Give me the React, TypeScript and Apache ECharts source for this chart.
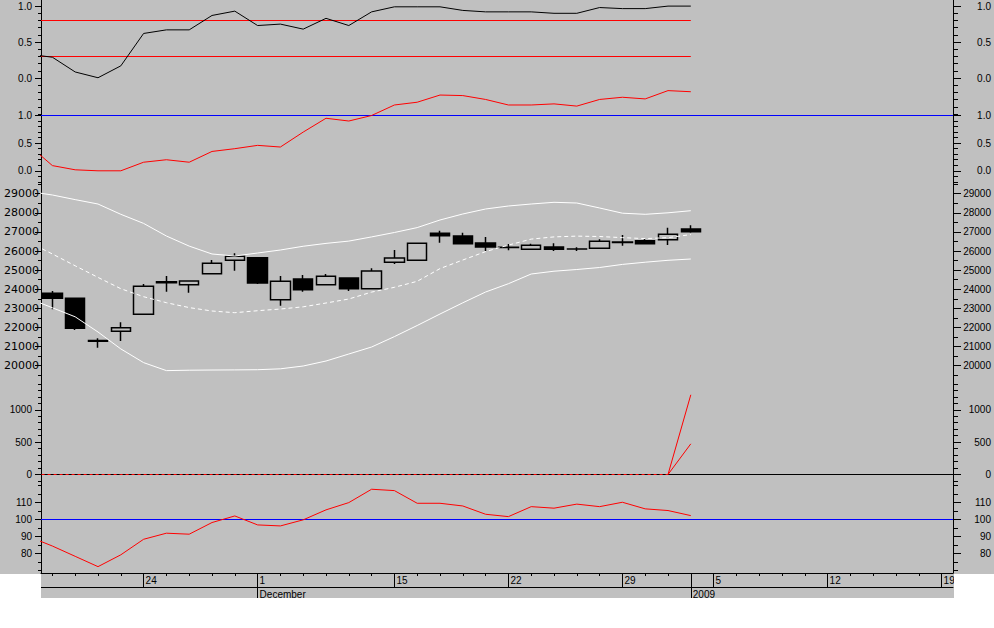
import React, { useEffect, useRef } from "react";
import * as echarts from "echarts";

const W = 994;
const H = 628;
const BG = "#c0c0c0";
const RED = "#ff0000";
const BLUE = "#0000ff";
const FONT = "'Liberation Sans', Arial, Helvetica, sans-serif";
const PLOT_L = 41;
const PLOT_R = 953;
const PLOT_BOTTOM = 573;

// x slots: session 0 = 18 Nov 2008 ... session 28 = 2 Jan 2009; axis runs to session 39 (19 Jan 2009)
const X_MIN = -0.5;
const X_MAX = 39.5;
const N_SLOTS = 40;
const LAST = 28;

// bottom axis
const dayLabelIdx = [4, 9, 15, 20, 25, 29, 34, 39];
const dayLabels = ["24", "1", "15", "22", "29", "5", "12", "19"];
const dayLineIdx = [4, 9, 15, 20, 25, 28, 29, 34, 39];
const monthIdx = [9, 28];
const monthLabels = ["December", "2009"];

// candles: [open, close, low, high] for sessions 0..28
const candles = [
  [23788, 23526, 22951, 23908],
  [23526, 21956, 21870, 23526],
  [21320, 21280, 20941, 21433],
  [21799, 21988, 21292, 22270],
  [22689, 24154, 22689, 24275],
  [24390, 24340, 23872, 24693],
  [24238, 24432, 23819, 24432],
  [24814, 25358, 24814, 25531],
  [25515, 25724, 24971, 25881],
  [25651, 24327, 24275, 25651],
  [23453, 24416, 23139, 24693],
  [24536, 23976, 23872, 24746],
  [24238, 24678, 24238, 24798],
  [24589, 24029, 23908, 24589],
  [24029, 24955, 24029, 25096],
  [25410, 25635, 25321, 26054],
  [25515, 26404, 25515, 26404],
  [26928, 26802, 26436, 27064],
  [26786, 26383, 26383, 26959],
  [26420, 26211, 26002, 26734],
  [26200, 26190, 26038, 26368],
  [26090, 26300, 26090, 26383],
  [26211, 26090, 26002, 26404],
  [26110, 26100, 26002, 26195],
  [26143, 26509, 26143, 26614],
  [26470, 26450, 26279, 26839],
  [26540, 26383, 26383, 26630],
  [26593, 26875, 26315, 27221],
  [27153, 27011, 26959, 27346],
];

// line series: first value = previous session (x = -1), only partly visible at the frame edge
const stochK = [0.33, 0.29, 0.085, 0.005, 0.17, 0.62, 0.67, 0.67, 0.87, 0.93, 0.73, 0.75, 0.68, 0.83, 0.73,
  0.92, 0.99, 0.99, 0.99, 0.94, 0.92, 0.92, 0.92, 0.9, 0.9, 0.98, 0.965, 0.965, 1.0, 1.0];
const stochHigh = 0.8;
const stochLow = 0.3;

const ratio = [0.45, 0.094, 0.018, 0.0, 0.0, 0.155, 0.2, 0.155, 0.35, 0.4, 0.46, 0.43, 0.7, 0.95, 0.9,
  1.0, 1.19, 1.24, 1.37, 1.36, 1.29, 1.19, 1.19, 1.21, 1.17, 1.29, 1.33, 1.3, 1.45, 1.43];
const ratioLevel = 1.0;

const bbUpper = [29110, 28932, 28690, 28460, 27922, 27446, 26786, 26258, 25845, 25740, 25897, 26054, 26250,
  26400, 26520, 26739, 26970, 27226, 27624, 27938, 28200, 28356, 28461, 28550, 28513, 28252, 27980, 27922, 28000, 28110];
const bbMiddle = [26440, 25845, 25227, 24620, 24029, 23610, 23296, 23040, 22862, 22773, 22877, 22966, 23081,
  23280, 23490, 23851, 24102, 24416, 25081, 25530, 25970, 26310, 26624, 26740, 26780, 26760, 26700, 26650, 26700, 26860];
const bbLower = [23500, 23030, 22558, 21763, 20878, 20161, 19743, 19764, 19774, 19780, 19790, 19837, 19984,
  20245, 20612, 20978, 21522, 22103, 22705, 23291, 23856, 24290, 24798, 24944, 25033, 25138, 25300, 25415, 25515, 25583];

const oscFast = [0, 0, 0, 0, 0, 0, 0, 0, 0, 0, 0, 0, 0, 0, 0, 0, 0, 0, 0, 0, 0, 0, 0, 0, 0, 0, 0, 0, 0, 1232];
const oscSlow = [0, 0, 0, 0, 0, 0, 0, 0, 0, 0, 0, 0, 0, 0, 0, 0, 0, 0, 0, 0, 0, 0, 0, 0, 0, 0, 0, 0, 0, 474];
const oscLevel = 0;

const momentum = [89.7, 84.3, 78.2, 72.1, 79.1, 88.3, 91.9, 91.3, 98.2, 102.1, 96.8, 96.2, 99.8, 105.7, 110.0,
  117.9, 117.1, 109.6, 109.6, 108.0, 103.1, 101.7, 107.6, 106.7, 109.1, 107.6, 110.2, 106.3, 105.3, 102.3];
const momLevel = 100;

// panes: pixel anchor (y0 at value v0, k px per unit), data range, labelled ticks, minor ticks
const panes = [
  { y0: 78.1, v0: 0, k: 72, data: [-0.5, 1.09], major: [0, 1, 0.5], minor: [-0.5, 1.0, 0.1], dec: 1 },
  { y0: 170.8, v0: 0, k: 55.3, data: [-0.2, 1.6], major: [0, 1, 0.5], minor: [-0.2, 1.0, 0.1], dec: 1 },
  { y0: 193.7, v0: 29000, k: 0.019111, data: [19000, 29600], major: [20000, 29000, 1000], minor: [19500, 29500, 500], dec: 0, price: true },
  { y0: 474.5, v0: 0, k: 0.0647, data: [-200, 1450], major: [0, 1000, 500], minor: [-100, 1400, 100], dec: 0 },
  { y0: 519.5, v0: 100, k: 1.69, data: [68.4, 121], major: [80, 110, 10], minor: [70, 120, 5], dec: 0 },
];

const LINE = { color: "#000", width: 1 };
const pts = (arr: number[]) => arr.map((v, i) => [i - 1, v]);

function buildOption() {
  const grid: any[] = [];
  const xAxis: any[] = [];
  const yAxis: any[] = [];
  const series: any[] = [];

  const addGrid = (top: number, height: number) => {
    grid.push({ left: PLOT_L, right: W - PLOT_R, top, height, containLabel: false, outerBoundsMode: "none", show: false });
    return grid.length - 1;
  };
  const hiddenX = (g: number) => {
    xAxis.push({ type: "value", gridIndex: g, min: X_MIN, max: X_MAX, show: false, splitLine: { show: false } });
    return xAxis.length - 1;
  };

  // frame: vertical axis lines + bottom date axis
  const fg = addGrid(0, PLOT_BOTTOM);
  const cats = Array.from({ length: N_SLOTS }, (_, i) => String(i));
  const catBase = { type: "category", gridIndex: fg, data: cats, boundaryGap: true, position: "bottom", splitLine: { show: false } };
  xAxis.push({
    ...catBase,
    axisLine: { show: true, onZero: false, lineStyle: LINE },
    axisTick: { show: true, alignWithLabel: true, interval: 0, length: 3, lineStyle: LINE },
    axisLabel: { show: false },
  });
  xAxis.push({
    ...catBase,
    axisLine: { show: false, onZero: false },
    axisTick: { show: true, alignWithLabel: true, interval: (i: number) => dayLineIdx.includes(i), length: 14, lineStyle: LINE },
    axisLabel: {
      show: true, interval: (i: number) => dayLabelIdx.includes(i), align: "left", margin: 2, padding: [0, 0, 0, 2],
      color: "#000", fontSize: 10, fontFamily: FONT,
      formatter: (_v: string, i: number) => {
        const k = dayLabelIdx.indexOf(i);
        return k >= 0 ? dayLabels[k] : "";
      },
    },
  });
  xAxis.push({
    ...catBase, offset: 14,
    axisLine: { show: true, onZero: false, lineStyle: LINE },
    axisTick: { show: true, alignWithLabel: true, interval: (i: number) => monthIdx.includes(i), length: 11, lineStyle: LINE },
    axisLabel: {
      show: true, interval: (i: number) => monthIdx.includes(i), align: "left", margin: 2, padding: [0, 0, 0, 2],
      color: "#000", fontSize: 10, fontFamily: FONT,
      formatter: (_v: string, i: number) => {
        const k = monthIdx.indexOf(i);
        return k >= 0 ? monthLabels[k] : "";
      },
    },
  });
  ["left", "right"].forEach((pos) =>
    yAxis.push({
      type: "value", gridIndex: fg, position: pos, min: 0, max: 1,
      axisLine: { show: true, onZero: false, lineStyle: LINE },
      axisTick: { show: false }, axisLabel: { show: false }, splitLine: { show: false },
    })
  );

  // data grids (hidden axes)
  const dataAxes = panes.map((p) => {
    const yOf = (v: number) => p.y0 - p.k * (v - p.v0);
    const g = addGrid(yOf(p.data[1]), yOf(p.data[0]) - yOf(p.data[1]));
    const xi = hiddenX(g);
    yAxis.push({ type: "value", gridIndex: g, min: p.data[0], max: p.data[1], show: false, splitLine: { show: false } });
    return { xi, yi: yAxis.length - 1 };
  });

  // tick grids: one for labelled ticks, one for minor ticks
  panes.forEach((p) => {
    const yOf = (v: number) => p.y0 - p.k * (v - p.v0);
    const fmt = (v: number) => (p.dec ? v.toFixed(p.dec) : String(Math.round(v)));
    [p.major, p.minor].forEach((t, which) => {
      const isMajor = which === 0;
      const g = addGrid(yOf(t[1]), yOf(t[0]) - yOf(t[1]));
      hiddenX(g);
      const base = {
        type: "value", gridIndex: g, min: t[0], max: t[1], interval: t[2],
        splitLine: { show: false }, splitArea: { show: false },
        axisLine: { show: false, onZero: false },
      };
      yAxis.push({
        ...base, position: "left",
        axisTick: { show: true, length: isMajor ? 6 : 3, lineStyle: LINE },
        axisLabel: isMajor
          ? {
              show: true, formatter: fmt, color: "#000",
              margin: p.price ? 2 : 9,
              fontSize: p.price ? 11 : 10,
              fontFamily: p.price ? "'DejaVu Sans', sans-serif" : FONT,
            }
          : { show: false },
      });
      yAxis.push({
        ...base, position: "right",
        axisTick: { show: true, length: isMajor ? 8 : 5, lineStyle: LINE },
        axisLabel: isMajor
          ? { show: true, formatter: fmt, color: "#000", margin: 38, align: "right", fontSize: 10, fontFamily: FONT }
          : { show: false },
      });
    });
  });

  const lineS = (pane: number, data: any[], color: string, extra: any = {}) => {
    const { lineStyle: extraLs, ...rest } = extra;
    return {
      type: "line", xAxisIndex: dataAxes[pane].xi, yAxisIndex: dataAxes[pane].yi, data,
      symbol: "none", showSymbol: false, silent: true, color, itemStyle: { color },
      emphasis: { disabled: true },
      ...rest,
      lineStyle: { color, width: 1, ...(extraLs || {}) },
    };
  };

  // pane A
  series.push(lineS(0, [[X_MIN, stochHigh], [LAST, stochHigh]], RED));
  series.push(lineS(0, [[X_MIN, stochLow], [LAST, stochLow]], RED));
  series.push(lineS(0, pts(stochK), "#000", { z: 3 }));
  // pane B
  series.push(lineS(1, [[X_MIN, ratioLevel], [X_MAX, ratioLevel]], BLUE));
  series.push(lineS(1, pts(ratio), RED, { z: 3 }));
  // pane C
  series.push({
    type: "candlestick", xAxisIndex: dataAxes[2].xi, yAxisIndex: dataAxes[2].yi, barWidth: 20, silent: true,
    data: candles.map((c, i) => [i, c[0], c[1], c[2], c[3]]),
    itemStyle: { color: BG, color0: "#000", borderColor: "#000", borderColor0: "#000", borderWidth: 1.5 },
    emphasis: { disabled: true },
  });
  series.push(lineS(2, pts(bbUpper), "#fff", { z: 3 }));
  series.push(lineS(2, pts(bbMiddle), "#fff", { z: 3, lineStyle: { type: [4, 3] } }));
  series.push(lineS(2, pts(bbLower), "#fff", { z: 3 }));
  // pane D
  series.push(lineS(3, [[X_MIN, oscLevel], [X_MAX, oscLevel]], "#000"));
  series.push(lineS(3, pts(oscFast).filter((p) => p[0] <= LAST - 1), RED, { z: 4, lineStyle: { type: [3, 3] } }));
  series.push(lineS(3, pts(oscFast).filter((p) => p[0] >= LAST - 1), RED, { z: 4 }));
  series.push(lineS(3, pts(oscSlow).filter((p) => p[0] >= LAST - 1), RED, { z: 4 }));
  // pane E
  series.push(lineS(4, [[X_MIN, momLevel], [X_MAX, momLevel]], BLUE));
  series.push(lineS(4, pts(momentum), RED, { z: 3 }));

  const graphic = [
    { type: "rect", silent: true, z: 100, shape: { x: 0, y: 574, width: 41, height: 60 }, style: { fill: "#fff" } },
    { type: "rect", silent: true, z: 100, shape: { x: 954, y: 574, width: 40, height: 60 }, style: { fill: "#fff" } },
    { type: "rect", silent: true, z: 100, shape: { x: 0, y: 598, width: W, height: 30 }, style: { fill: "#fff" } },
  ];

  return {
    animation: false,
    backgroundColor: BG,
    textStyle: { fontFamily: FONT },
    tooltip: { show: false },
    grid, xAxis, yAxis, series, graphic,
  };
}

export default function App() {
  const ref = useRef<HTMLDivElement>(null);
  useEffect(() => {
    document.body.style.margin = "0";
    if (!ref.current) return;
    const chart = echarts.init(ref.current, undefined, { renderer: "svg", width: W, height: H });
    chart.setOption(buildOption() as any);
    return () => chart.dispose();
  }, []);
  return <div ref={ref} style={{ position: "absolute", left: 0, top: 0, width: W, height: H }} />;
}
